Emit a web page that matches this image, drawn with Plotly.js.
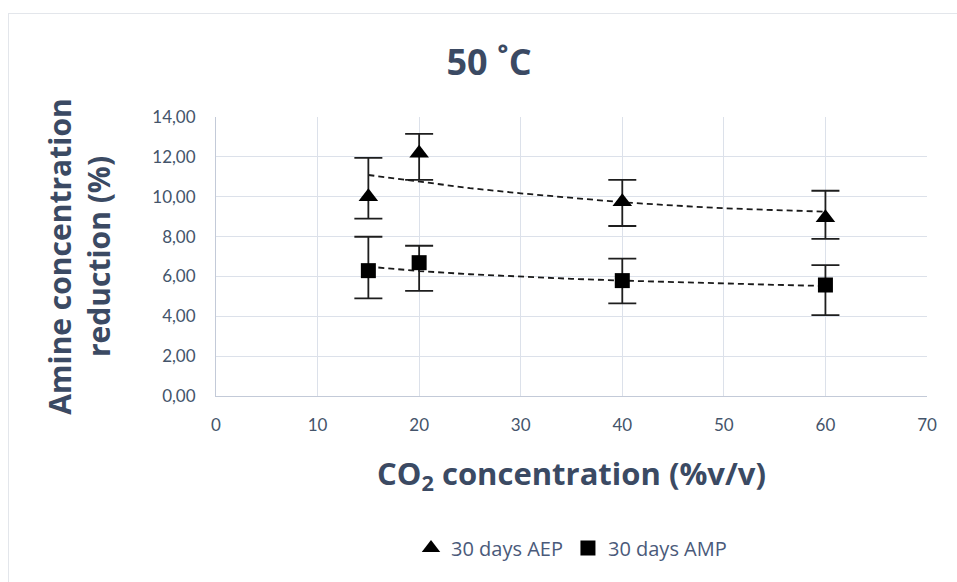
<!DOCTYPE html>
<html>
<head>
<meta charset="utf-8">
<script src="https://cdn.plot.ly/plotly-3.0.1.min.js"></script>
<style>
  html, body { margin: 0; padding: 0; background: #ffffff; }
  #frame { position: absolute; left: 8px; top: 13px; width: 1000px; height: 600px;
           border-left: 1px solid #e3e6eb; border-top: 1px solid #e3e6eb; }
  #chart { position: absolute; left: 0; top: 0; width: 957px; height: 582px; }
</style>
</head>
<body>
<div id="frame"></div>
<div id="chart"></div>
<script>
// CO2 concentration (%v/v)
const co2 = [15, 20, 40, 60];

// 30 days AEP: amine concentration reduction (%) and asymmetric error bars
const aepValues   = [10.00, 12.18, 9.75, 8.95];
const aepErrPlus  = [1.95, 0.97, 1.09, 1.35];
const aepErrMinus = [1.10, 1.34, 1.22, 1.07];

// 30 days AMP
const ampValues   = [6.29, 6.69, 5.79, 5.57];
const ampErrPlus  = [1.70, 0.85, 1.10, 1.00];
const ampErrMinus = [1.39, 1.41, 1.14, 1.51];

// Dashed trend lines
const trendX   = [15, 20, 25, 30, 35, 40, 45, 50, 55, 60];
const aepTrend = [11.09, 10.75, 10.43, 10.17, 9.93, 9.72, 9.56, 9.42, 9.33, 9.25];
const ampTrend = [6.49, 6.27, 6.11, 5.99, 5.88, 5.79, 5.71, 5.65, 5.58, 5.52];

// Tick labels
const xTicks = [0, 10, 20, 30, 40, 50, 60, 70];
const yTicks = [0, 2, 4, 6, 8, 10, 12, 14];

const textColor = '#44546a';
const titleColor = '#3b4a63';
const tickFont = 'Lato, "Open Sans", sans-serif';
const titleFont = '"Open Sans", Lato, sans-serif';

const traces = [
  {
    x: trendX, y: aepTrend, mode: 'lines', showlegend: false, hoverinfo: 'skip',
    line: { color: '#1a1a1a', width: 1.8, dash: '6px,4px' }
  },
  {
    x: trendX, y: ampTrend, mode: 'lines', showlegend: false, hoverinfo: 'skip',
    line: { color: '#1a1a1a', width: 1.8, dash: '6px,4px' }
  },
  {
    name: '30 days AEP', x: co2, y: aepValues, mode: 'markers', type: 'scatter',
    marker: { symbol: 'triangle-up', size: 17, color: '#000000' },
    error_y: { type: 'data', symmetric: false, array: aepErrPlus, arrayminus: aepErrMinus,
               color: '#1e1e1e', thickness: 1.8, width: 14 }
  },
  {
    name: '30 days AMP', x: co2, y: ampValues, mode: 'markers', type: 'scatter',
    marker: { symbol: 'square', size: 15, color: '#000000' },
    error_y: { type: 'data', symmetric: false, array: ampErrPlus, arrayminus: ampErrMinus,
               color: '#1e1e1e', thickness: 1.8, width: 14 }
  }
];

const layout = {
  width: 957, height: 582,
  paper_bgcolor: 'rgba(0,0,0,0)', plot_bgcolor: '#ffffff',
  margin: { l: 216, r: 30, t: 117, b: 186 },
  font: { family: tickFont, color: textColor },
  title: {
    text: '<b>50 ˚C</b>',
    font: { size: 36, color: titleColor, family: titleFont },
    x: 489 / 957, xref: 'container', xanchor: 'center',
    y: 1 - 62 / 582, yref: 'container', yanchor: 'middle'
  },
  xaxis: {
    range: [0, 70], tickvals: xTicks, ticktext: xTicks.map(String),
    showgrid: true, gridcolor: '#dce1ea', gridwidth: 1,
    showline: true, linecolor: '#c3cad8', linewidth: 1,
    zeroline: false, ticks: '', ticklabelstandoff: 14,
    tickfont: { size: 17, color: textColor },
    title: {
      text: '<b>CO<sub>2</sub> concentration (%v/v)</b>',
      font: { size: 31, color: titleColor, family: titleFont }, standoff: 28
    },
    automargin: true
  },
  yaxis: {
    range: [0, 14], tickvals: yTicks, ticktext: yTicks.map(v => v.toFixed(2).replace('.', ',')),
    showgrid: true, gridcolor: '#dce1ea', gridwidth: 1,
    showline: true, linecolor: '#c3cad8', linewidth: 1,
    zeroline: false, ticks: '', ticklabelstandoff: 16,
    tickfont: { size: 17, color: textColor },
    title: {
      text: '<b>Amine concentration<br>reduction (%)</b>',
      font: { size: 30, color: titleColor, family: titleFont }, standoff: 32
    },
    automargin: true
  },
  showlegend: true,
  legend: {
    orientation: 'h', x: 0.5, xanchor: 'center', y: -0.545, yanchor: 'middle',
    font: { size: 20, color: '#4a5a7a', family: titleFont }, itemwidth: 30, traceorder: 'normal',
    bgcolor: 'rgba(0,0,0,0)'
  }
};

Plotly.newPlot('chart', traces, layout, { staticPlot: true, displayModeBar: false });
</script>
</body>
</html>
